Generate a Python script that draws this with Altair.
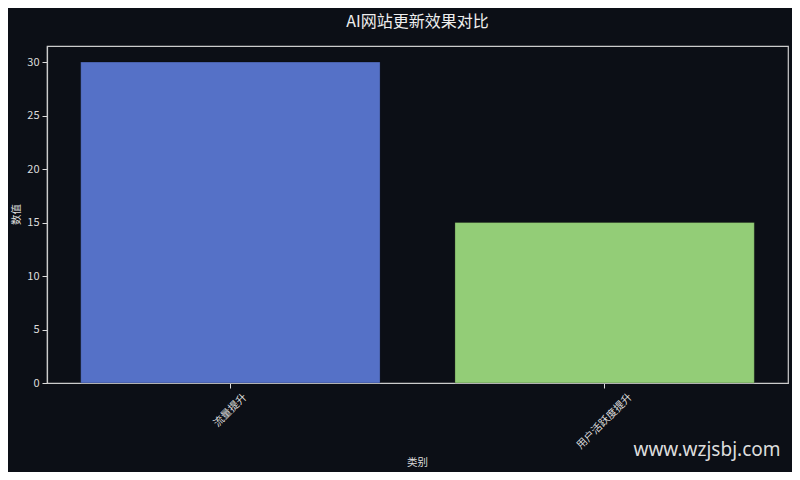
import altair as alt
import pandas as pd

title_text = "AI网站更新效果对比"
categories = ["流量提升", "用户活跃度提升"]
values = [30, 15]
bar_colors = ["#5571c7", "#93cd77"]
y_ticks = [0, 5, 10, 15, 20, 25, 30]
x_title = "类别"
y_title = "数值"
watermark = ["www.wzjsbj.com"]

BG = "#0c0f16"
FG = "#dddddd"
FONT = "Noto Sans CJK SC"

df = pd.DataFrame({"类别": categories, "数值": values, "color": bar_colors})

bars = alt.Chart(df).mark_bar(stroke="#000000", strokeOpacity=0.25, strokeWidth=1).encode(
    x=alt.X(
        "类别:N",
        sort=categories,
        scale=alt.Scale(paddingInner=0.2, paddingOuter=0.09),
        axis=alt.Axis(
            title=x_title,
            labelAngle=-45,
            labelAlign="center",
            labelBaseline="middle",
            labelPadding={"condition": {"test": f"datum.value === '{categories[0]}'", "value": 22}, "value": 33},
            labelFontSize=10.5,
            labelColor=FG,
            labelFont=FONT,
            titleFont=FONT,
            titleFontSize=10.5,
            titleFontWeight="normal",
            titleColor=FG,
            titleX=370,
            titleY=79,
            titleAlign="center",
            titleBaseline="middle",
            tickColor=FG,
            tickSize=5,
            domainColor="#cccccc",
            domainWidth=1.2,
            grid=False,
        ),
    ),
    y=alt.Y(
        "数值:Q",
        scale=alt.Scale(domain=[0, 31.5], nice=False),
        axis=alt.Axis(
            title=y_title,
            values=y_ticks,
            labelFontSize=11,
            labelColor=FG,
            labelFont=FONT,
            labelPadding=3,
            titleFont=FONT,
            titleFontSize=10.5,
            titleFontWeight="normal",
            titleColor=FG,
            titleAngle=-90,
            titleX=-31,
            titleY=168,
            titleAlign="center",
            titleBaseline="middle",
            tickColor=FG,
            tickSize=5,
            domainColor="#cccccc",
            domainWidth=1.2,
            grid=False,
        ),
    ),
    color=alt.Color("color:N", scale=None),
)

wm = alt.Chart(pd.DataFrame({"t": watermark})).mark_text(
    font="Noto Sans", fontSize=19, color="#dddddd", align="center", baseline="middle"
).encode(text="t:N", x=alt.value(660), y=alt.value(404))

chart = alt.layer(bars, wm).properties(
    width=741,
    height=337,
    background=BG,
    padding={"left": 39, "top": 38, "right": 4, "bottom": 89},
    autosize=alt.AutoSizeParams(type="none"),
    title=alt.TitleParams(
        text=title_text,
        font=FONT,
        fontSize=16,
        fontWeight="normal",
        color="#eeeeee",
        anchor="middle",
        offset=16,
    ),
).configure_view(stroke="#cccccc", strokeWidth=1.2, fill=BG)

chart.save("out.html", embed_options={"renderer": "svg", "actions": False})
